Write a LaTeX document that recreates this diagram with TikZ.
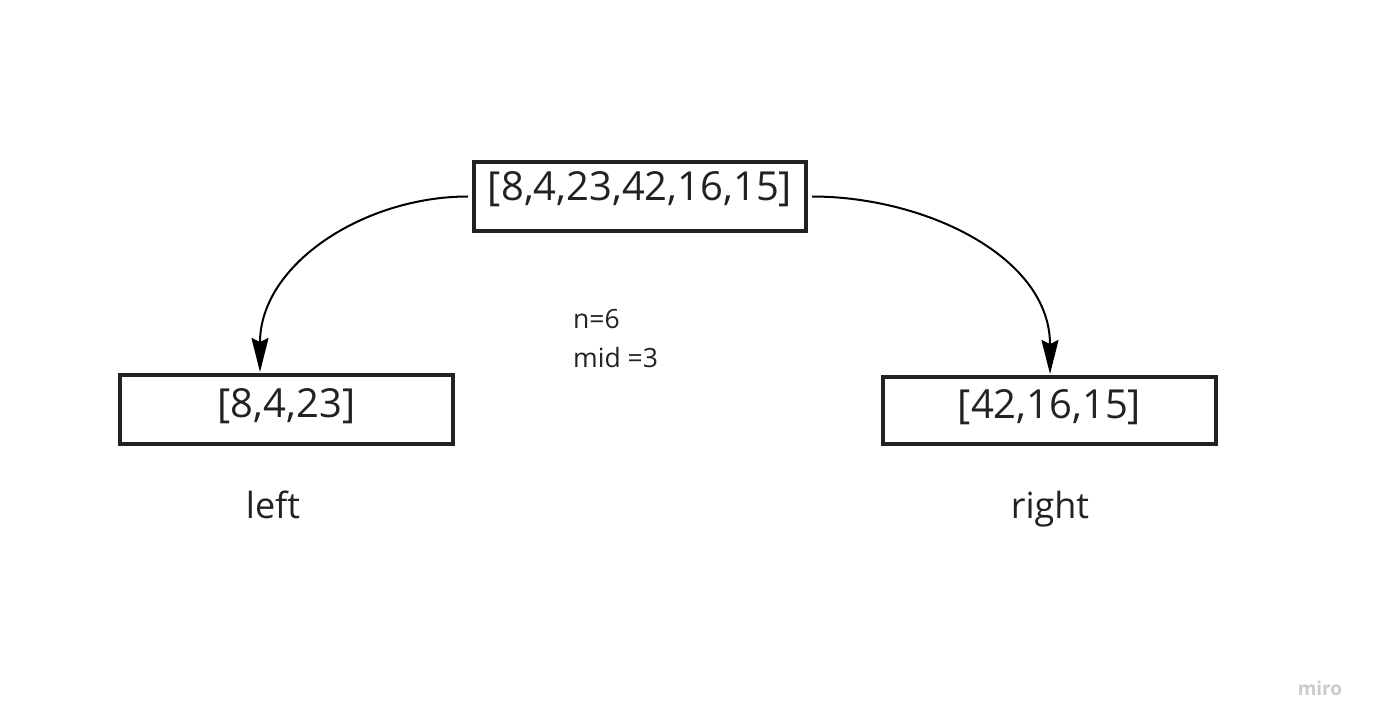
\documentclass[tikz,border=0pt]{standalone}
\usepackage{fontspec}
\setmainfont{Open Sans}
\usetikzlibrary{arrows.meta}
\definecolor{ink}{HTML}{222222}
\definecolor{mirogray}{HTML}{C9CAD2}
\tikzset{
  box/.style={draw=ink, line width=4pt, inner sep=0pt, font=\fontsize{40}{40}\selectfont, text=ink},
  conn/.style={line width=2pt, -{Stealth[length=34pt,width=17pt,inset=4pt]}},
  note/.style={font=\fontsize{26.5}{26.5}\selectfont, text=ink, anchor=base west, inner sep=0pt},
  side/.style={font=\fontsize{36}{36}\selectfont, text=ink, anchor=base, inner sep=0pt}
}
\begin{document}
\begin{tikzpicture}[x=1pt,y=-1pt]
\useasboundingbox[fill=white] (0,0) rectangle (1373,727);
\node[box, minimum width=332pt, text height=39pt, text depth=30pt] (top) at (640,196.5) {[8,4,23,42,16,15]};
\node[box, minimum width=333pt, text height=42pt, text depth=27pt] (left) at (286.5,409.5) {[8,4,23]};
\node[box, minimum width=333pt, text height=41pt, text depth=26pt] (right) at (1049.5,410.5) {[42,16,15]};
\coordinate (lt) at (260,372);
\coordinate (rt) at (1050,374);
\draw[conn, shorten <=4pt] (top.west) to[out=180,in=90] (lt);
\draw[conn, shorten <=4pt] (top.east) to[out=0,in=90] (rt);
\node[note] (n) at (573,328) {n=6};
\node[note] (mid) at (573,367) {mid =3};
\node[side] (lefttxt) at (273,518) {left};
\node[side] (righttxt) at (1050,518) {right};
\node[font=\fontsize{19}{19}\selectfont\bfseries, text=mirogray, anchor=base, inner sep=0pt] (miro) at (1320,695) {miro};
\end{tikzpicture}
\end{document}
